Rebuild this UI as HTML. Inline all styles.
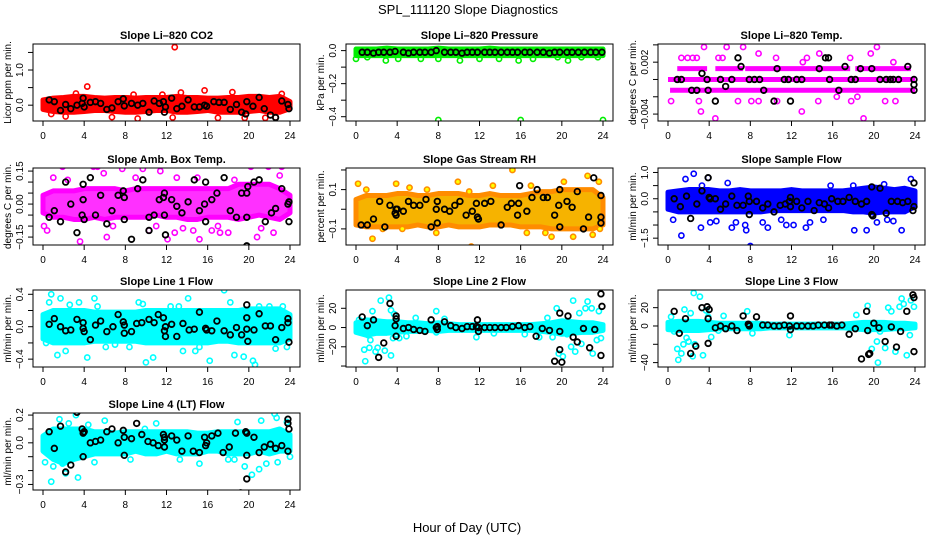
<!DOCTYPE html>
<html><head><meta charset="utf-8"><title>SPL_111120 Slope Diagnostics</title>
<style>
html,body{margin:0;padding:0;background:#fff;}
svg{display:block;font-family:"Liberation Sans",Arial,sans-serif;}
</style></head>
<body>
<svg id="chart" width="936" height="540" viewBox="0 0 936 540">
<text x="468" y="14" text-anchor="middle" font-size="13">SPL_111120  Slope Diagnostics</text>
<text x="467" y="532" text-anchor="middle" font-size="13">Hour of Day (UTC)</text>
</svg>
<script>
// ---------- shared ----------
const hours = [0,1,2,3,4,5,6,7,8,9,10,11,12,13,14,15,16,17,18,19,20,21,22,23,24];
const xTicks = [0,4,8,12,16,20,24];

// ---------- Panel 1: Li-820 CO2 ----------
const co2BandLo = [-0.12,-0.18,-0.2,-0.2,-0.18,-0.15,-0.15,-0.18,-0.2,-0.2,-0.18,-0.15,-0.15,-0.2,-0.2,-0.18,-0.15,-0.2,-0.2,-0.2,-0.18,-0.15,-0.2,-0.2,-0.1];
const co2BandHi = [0.15,0.2,0.22,0.25,0.25,0.22,0.2,0.22,0.22,0.2,0.22,0.22,0.22,0.25,0.22,0.22,0.2,0.2,0.22,0.22,0.25,0.25,0.22,0.25,0.1];
const co2OutX = [12.8,4.3,15.7,13.4,18.4,3.2,23.2,9.2,6.7,12.6,21.6,22.6,17.0,19.6,2.2,0.8,11.6,8.8];
const co2OutY = [1.65,0.53,0.42,0.36,0.37,0.33,0.32,-0.38,-0.34,-0.35,-0.36,-0.35,-0.36,-0.36,-0.32,-0.25,0.3,0.3];
const co2BlkX = [0.6,1.1,1.7,2.2,2.7,3.3,3.8,3.9,4.0,4.6,5.1,5.6,6.2,6.7,7.3,7.8,7.9,8.6,9.2,9.7,10.3,10.8,11.3,11.7,11.8,11.9,12.5,13.0,13.5,14.1,14.7,15.2,15.7,15.9,16.6,17.1,17.6,18.2,18.8,19.3,19.7,19.8,20.4,21.0,21.5,22.1,22.6,23.2,23.8,23.9];
const co2BlkY = [0.15,0.1,-0.15,0.02,-0.1,0.0,0.05,0.2,-0.05,0.08,0.1,0.05,-0.12,-0.08,0.1,0.18,-0.02,0.05,0.0,0.05,-0.2,0.12,0.05,0.1,-0.2,-0.05,0.2,-0.1,-0.03,0.15,-0.05,-0.05,0.0,-0.03,0.1,0.08,0.08,-0.12,0.02,-0.2,-0.25,0.1,-0.03,0.22,-0.1,-0.28,-0.35,0.12,0.02,-0.1];

// ---------- Panel 2: Li-820 Pressure ----------
const presBandLo = [-0.03,-0.03,-0.03,-0.03,-0.03,-0.03,-0.03,-0.03,-0.03,-0.03,-0.03,-0.03,-0.03,-0.03,-0.03,-0.03,-0.03,-0.03,-0.03,-0.03,-0.03,-0.03,-0.03,-0.03,-0.03];
const presBandHi = [0.01,0.01,0.01,0.015,0.01,0.01,0.01,0.01,0.015,0.01,0.01,0.01,0.01,0.015,0.01,0.01,0.01,0.01,0.01,0.01,0.01,0.01,0.01,0.01,0.01];
const presOutX = [0,1.1,2.9,4.1,6.3,8.0,8.0,10.1,12.0,13.9,15.8,16.0,17.2,19.6,20.6,21.9,23.5,24.0];
const presOutY = [-0.05,-0.04,-0.06,-0.05,-0.05,-0.05,-0.42,-0.06,-0.05,-0.05,-0.06,-0.42,-0.05,-0.04,-0.06,-0.04,-0.04,-0.42];
const presBlkX = [0.6,1.1,1.7,2.2,2.7,3.3,3.8,4.6,5.1,5.6,6.2,6.7,7.3,7.8,8.6,9.2,9.7,10.3,10.8,11.3,11.8,12.5,13.0,13.5,14.1,14.7,15.2,15.7,16.4,16.9,17.6,18.2,18.8,19.3,19.8,20.5,21.0,21.6,22.2,22.8,23.3,23.9];
const presBlkY = [-0.01,-0.01,-0.015,-0.01,-0.01,-0.01,-0.005,-0.01,-0.015,-0.01,-0.01,-0.01,-0.01,0.0,-0.01,-0.01,-0.01,-0.015,-0.01,-0.01,-0.01,-0.01,-0.01,-0.01,-0.01,-0.01,-0.01,-0.01,-0.01,-0.01,-0.01,-0.01,-0.015,-0.01,-0.01,-0.01,-0.01,-0.01,-0.01,-0.01,-0.01,-0.01];

// ---------- Panel 3: Li-820 Temp (discrete levels) ----------
const tempStripLevel = [0,0.00125,0.00125,0.00125,0.00125,-0.00125];
const tempStripStart = [0,0.9,4.6,7.5,18.2,0.2];
const tempStripEnd = [24,3.8,7.3,17.7,23.6,24];
const tempOutX = [1.3,1.9,2.4,2.8,3.5,4.9,5.3,5.7,7.3,8.8,10.5,13.1,13.5,14.7,17.7,19.7,20.3,21.9,0.3,3.0,3.2,4.6,6.8,8.1,8.8,10.6,13.0,14.6,16.4,17.8,18.4,19.0,22.1,21.1];
const tempOutY = [0.0025,0.0025,0.0025,0.0025,0.00375,0.0025,0.0025,0.00375,0.00375,0.003,0.0025,0.002,0.0025,0.003,0.0025,0.003,0.00375,0.002,-0.0025,-0.0025,-0.0037,-0.0045,-0.0025,-0.0025,-0.0025,-0.0025,-0.0037,-0.0025,-0.002,-0.0025,-0.002,-0.0045,-0.0025,-0.0025];
const tempBlkX = [0.9,1.3,2.3,2.8,3.3,3.8,3.9,4.6,5.1,5.6,6.2,6.8,7.1,7.9,8.4,8.9,9.3,10.3,10.6,11.3,11.7,11.9,12.5,13.0,14.7,15.3,15.6,15.7,16.6,17.2,17.8,18.2,18.7,19.8,20.6,21.2,21.6,21.9,22.4,23.3,23.9,23.9,23.9];
const tempBlkY = [0,0,-0.00125,-0.00125,0.0007,0,-0.00125,-0.0025,0,-0.0008,0,0.0025,0.0015,0,0,0,-0.00125,-0.0025,0.00125,0,0,-0.0025,0,0,0.00125,0.0025,0.0025,0,-0.00125,0.0015,0,0,0.00125,0.00125,0,0,0,0,0,0.0015,0,-0.0006,-0.00125];

// ---------- Panel 4: Amb. Box Temp ----------
const ambBandLo = [-0.04,-0.06,-0.06,-0.07,-0.07,-0.06,-0.07,-0.06,-0.06,-0.06,-0.06,-0.05,-0.06,-0.06,-0.07,-0.07,-0.06,-0.06,-0.06,-0.07,-0.06,-0.05,-0.06,-0.07,-0.04];
const ambBandHi = [0.04,0.06,0.06,0.06,0.07,0.07,0.07,0.07,0.06,0.07,0.07,0.07,0.07,0.07,0.07,0.07,0.07,0.07,0.07,0.09,0.09,0.09,0.09,0.07,0.04];
const ambOutX = [1.4,3.3,1.9,0.4,3.6,4.9,5.3,6.2,8.6,7.7,9.7,10.3,11.4,12.1,12.8,14.6,15.2,16.4,17.2,18.0,19.8,20.2,20.8,21.9,22.4,23.2,1.0,5.9,13.6,0.1,2.4,6.8,9.0,11.0,13.0,15.0,17.0,18.6,21.2,23.0];
const ambOutY = [-0.2,0.19,0.17,-0.12,-0.17,0.17,0.17,-0.15,-0.21,0.16,0.16,-0.12,0.15,-0.16,-0.13,-0.12,-0.16,-0.12,-0.13,-0.13,0.19,0.17,-0.15,0.17,-0.13,0.17,0.12,0.14,-0.11,-0.1,0.11,-0.1,0.12,-0.1,0.12,0.12,-0.1,0.11,-0.11,0.13];
const ambBlkX = [0.6,1.1,1.7,2.2,2.7,3.3,3.8,3.9,3.9,4.0,4.6,5.1,5.6,6.2,6.7,7.3,7.8,7.9,7.9,8.6,9.2,9.7,10.3,10.3,10.8,11.3,11.7,11.8,11.8,11.9,12.5,13.0,13.5,14.1,14.7,15.2,15.7,15.8,15.8,16.4,16.9,17.6,18.2,18.8,19.3,19.8,19.8,19.8,19.9,20.5,21.0,21.6,22.2,22.6,23.2,23.8,23.9,23.9];
const ambBlkY = [-0.06,-0.03,-0.08,0.1,0.0,-0.13,-0.05,0.02,0.09,-0.07,0.12,-0.05,0.04,-0.09,-0.03,0.04,0.06,0.03,-0.07,-0.16,0.07,0.11,-0.06,-0.12,-0.05,0.02,0.03,0.05,-0.05,-0.14,0.02,-0.01,-0.04,0.01,0.11,-0.03,0.0,-0.08,0.1,0.02,0.05,0.12,-0.03,-0.06,0.05,0.05,-0.06,-0.19,0.08,0.1,0.11,-0.08,-0.04,-0.02,0.07,0.0,0.01,-0.08];

// ---------- Panel 5: Gas Stream RH ----------
const rhBandLo = [-0.08,-0.09,-0.09,-0.09,-0.09,-0.09,-0.08,-0.09,-0.09,-0.08,-0.09,-0.09,-0.09,-0.08,-0.08,-0.08,-0.09,-0.09,-0.09,-0.1,-0.1,-0.1,-0.1,-0.1,-0.08];
const rhBandHi = [0.05,0.07,0.07,0.07,0.08,0.08,0.07,0.07,0.08,0.08,0.08,0.07,0.07,0.08,0.07,0.07,0.07,0.08,0.09,0.09,0.1,0.1,0.1,0.1,0.06];
const rhOutX = [0.2,1.0,1.6,2.6,3.9,4.5,5.5,5.2,6.9,7.8,9.9,11.2,11.0,13.3,15.2,16.6,17.0,18.4,19.0,20.2,21.1,22.5,23.0,23.6,23.7];
const rhOutY = [0.13,0.1,-0.15,-0.1,0.13,-0.1,-0.2,0.11,0.1,-0.12,0.14,-0.19,0.09,0.12,0.2,-0.12,0.12,-0.12,-0.14,0.14,-0.14,0.17,-0.13,0.14,-0.1];
const rhBlkX = [0.5,1.1,1.7,2.3,2.8,3.3,3.8,3.9,3.9,4.0,4.6,5.1,5.6,6.2,6.8,7.3,7.8,7.9,7.9,8.6,9.1,9.6,10.1,10.7,11.3,11.7,11.8,11.9,12.5,13.1,14.1,14.7,15.1,15.7,15.8,15.9,16.6,17.1,17.6,18.2,18.6,19.3,19.7,19.8,19.8,20.5,21.0,21.5,22.1,22.6,23.1,23.8,23.8,23.8];
const rhBlkY = [-0.08,-0.08,-0.05,0.04,-0.09,0.02,-0.02,0.0,-0.03,0.0,-0.01,0.04,0.02,0.02,0.05,-0.09,0.0,-0.07,0.04,0.0,-0.01,0.02,0.04,-0.03,-0.01,0.03,-0.04,-0.05,0.03,0.04,-0.08,0.01,0.03,-0.03,0.03,0.12,-0.01,0.06,0.1,0.06,0.06,-0.03,0.02,0.1,-0.09,0.04,0.01,0.09,-0.1,-0.04,0.16,-0.04,-0.07,0.07];

// ---------- Panel 6: Sample Flow ----------
const sfBandLo = [-0.4,-0.5,-0.5,-0.5,-0.5,-0.5,-0.5,-0.5,-0.5,-0.5,-0.45,-0.45,-0.45,-0.45,-0.45,-0.45,-0.45,-0.45,-0.5,-0.5,-0.55,-0.5,-0.5,-0.5,-0.3];
const sfBandHi = [0.25,0.3,0.35,0.35,0.35,0.3,0.3,0.35,0.3,0.3,0.3,0.3,0.35,0.3,0.3,0.3,0.3,0.3,0.35,0.4,0.45,0.4,0.35,0.4,0.3];
const sfOutX = [1.3,0.5,1.9,1.7,2.5,3.2,3.3,3.9,4.1,4.7,5.8,6.2,6.6,7.5,7.6,8.0,9.2,9.7,11.0,11.5,12.2,13.4,13.8,15.1,15.8,18.1,18.0,19.3,20.3,20.6,21.0,21.3,21.9,22.7,23.6];
const sfOutY = [-1.4,-0.8,1.3,0.75,0.95,-1.1,0.5,0.8,-0.9,-0.85,0.6,-1.1,-0.9,-1.0,-1.2,-1.8,-0.9,-1.1,-0.8,-1.0,-1.0,-1.1,-0.9,-0.8,0.5,-1.2,0.5,-1.2,-0.9,-1.9,0.55,-0.8,-0.85,-1.2,0.75];
const sfBlkX = [0.6,1.2,1.8,2.2,2.8,3.3,3.9,4.0,4.1,4.6,5.1,5.6,6.2,6.7,7.3,7.8,7.9,7.9,8.6,9.2,9.7,10.3,10.9,11.4,11.8,11.9,11.9,12.5,13.0,13.6,14.2,14.7,15.2,15.6,15.9,16.5,17.0,17.6,18.2,18.8,19.3,19.8,19.8,19.9,20.6,21.2,21.7,22.3,22.8,23.3,23.9,23.9,23.8];
const sfBlkY = [0.0,-0.3,0.1,-0.75,-0.2,0.3,0.8,0.05,0.0,0.0,-0.4,-0.2,0.1,-0.25,-0.25,0.1,-0.1,-0.6,-0.1,-0.35,-0.2,-0.5,-0.25,-0.2,-0.1,0.05,-0.3,-0.1,-0.35,-0.1,-0.45,-0.15,-0.2,-0.35,0.0,-0.1,-0.1,0.05,-0.1,-0.2,-0.1,0.45,-0.6,-0.65,0.4,-0.55,-0.1,-0.1,-0.15,-0.1,0.6,-0.3,-0.45];

// ---------- Panel 7: Line 1 Flow ----------
const l1BandLo = [-0.15,-0.2,-0.2,-0.2,-0.2,-0.18,-0.18,-0.18,-0.18,-0.18,-0.2,-0.2,-0.2,-0.2,-0.2,-0.2,-0.2,-0.18,-0.18,-0.2,-0.2,-0.2,-0.2,-0.2,-0.15];
const l1BandHi = [0.15,0.2,0.2,0.2,0.2,0.18,0.18,0.18,0.18,0.18,0.2,0.2,0.2,0.2,0.2,0.2,0.2,0.2,0.2,0.2,0.22,0.22,0.22,0.22,0.15];
const l1OutX = [0.3,0.6,0.8,1.0,1.4,1.7,2.2,2.6,3.5,4.1,4.3,5.0,5.3,6.1,7.0,8.4,9.3,9.7,10.0,10.7,12.4,13.2,13.6,14.1,14.8,15.2,16.2,17.6,18.2,18.6,19.5,20.4,20.6,21.0,22.0,22.6,23.3,23.7];
const l1OutY = [-0.2,0.3,0.4,-0.17,-0.35,0.35,-0.3,0.27,0.3,-0.15,-0.38,0.35,0.25,-0.25,-0.22,-0.25,0.3,0.28,-0.44,-0.38,0.25,0.25,-0.3,0.35,-0.3,-0.25,-0.42,0.45,0.3,-0.35,-0.37,-0.42,-0.47,0.25,0.25,-0.27,0.25,-0.25];
const l1BlkX = [0.6,1.1,1.7,2.2,2.7,3.3,3.9,3.9,4.0,4.6,5.1,5.6,6.2,6.8,7.3,7.8,7.9,7.9,8.6,9.1,9.6,10.3,10.8,11.2,11.7,11.8,11.9,11.9,12.5,13.0,13.6,14.2,14.7,15.2,15.8,15.9,16.4,16.9,17.6,18.2,18.8,19.3,19.8,19.8,19.8,19.9,20.5,21.0,21.6,22.1,22.6,23.2,23.8,23.8,23.9];
const l1BlkY = [0.03,0.1,0.0,-0.05,-0.04,0.09,0.05,-0.02,-0.06,-0.16,0.02,0.07,-0.06,0.0,0.15,0.06,-0.08,0.02,-0.06,0.04,0.05,0.09,0.05,0.15,0.11,-0.05,0.0,-0.12,0.03,-0.12,0.04,-0.04,-0.03,0.18,-0.02,-0.04,-0.05,0.07,-0.05,-0.1,-0.01,-0.1,0.27,0.11,-0.03,-0.18,-0.04,0.16,0.01,0.01,-0.16,-0.01,0.1,0.05,-0.19];

// ---------- Panel 8: Line 2 Flow ----------
const l2BandLo = [-5,-8,-6,-6,-5,-4,-4,-3,-4,-3,-3,-3,-3,-3,-3,-3,-3,-3,-4,-5,-7,-6,-5,-5,-3];
const l2BandHi = [5,8,7,6,6,5,5,4,5,4,3,3,3,3,3,3,3,3,4,5,7,6,5,5,3];
const l2OutX = [0.3,0.8,0.9,1.2,1.4,1.6,1.3,1.9,2.1,2.4,2.8,3.2,3.4,3.6,3.7,3.4,4.2,4.9,5.8,7.8,7.8,8.6,11.7,13.4,16.4,17.8,18.6,19.1,19.5,19.7,20.1,20.5,20.9,21.1,21.3,21.7,21.9,22.3,22.5,22.9,23.0,23.4,23.6,23.8];
const l2OutY = [8,-23,-35,-8,-13,17,-21,-25,-21,28,-24,31,18,-11,14,-29,-11,-9,10,17,-5,9,-10,-6,-7,-10,10,-10,20,-27,-30,-7,-20,28,-25,15,-17,20,27,20,-27,-13,17,-11];
const l2BlkX = [0.6,1.1,1.7,2.2,2.7,3.3,3.8,3.9,3.9,3.9,4.6,5.1,5.6,6.2,6.7,7.3,7.8,7.9,7.9,8.6,9.2,9.7,10.3,10.8,11.3,11.7,11.8,11.9,11.9,12.5,13.0,13.5,14.1,14.6,15.2,15.8,16.4,16.9,17.5,18.1,18.8,19.3,19.8,19.8,19.8,20.0,20.6,21.1,21.5,22.1,22.7,23.2,23.8,23.8,23.9];
const l2BlkY = [11,2,8,-31,-16,25,2,-9,12,9,-1,0,-2,-3,-4,8,0,-2,1,6,2,0,-1,1,1,1,8,-4,0,0,0,0,0,0,1,2,0,1,-9,-1,-3,-35,15,-23,-4,-36,12,-10,-15,-1,-21,-2,35,-29,22];

// ---------- Panel 9: Line 3 Flow ----------
const l3BandLo = [-4,-5,-5,-5,-4,-3,-3,-3,-3,-3,-2,-2,-2,-2,-2,-2,-2,-2,-3,-4,-4,-4,-3,-3,-2];
const l3BandHi = [4,5,5,5,4,3,3,3,3,3,2,2,2,2,2,2,2,2,3,4,4,4,3,3,2];
const l3OutX = [0.3,0.6,0.9,1.0,1.3,1.5,1.6,1.8,2.0,2.2,2.4,2.6,2.5,3.1,3.4,3.7,3.9,4.2,4.9,5.4,7.7,8.2,11.8,18.3,19.4,19.5,19.8,20.3,20.4,20.6,21.1,21.4,21.7,22.1,22.5,22.7,22.9,23.2,23.5,23.6,23.9];
const l3OutY = [10,-6,-25,-37,-30,-20,18,-13,-17,14,-33,-20,36,32,-32,17,10,-12,-5,11,16,-8,-10,12,22,-5,-25,-17,-40,-6,-24,20,16,-28,21,30,24,-32,-10,28,21];
const l3BlkX = [0.6,1.1,1.7,2.2,2.7,3.3,3.8,3.9,3.9,4.0,4.6,5.1,5.6,6.2,6.7,7.3,7.8,7.9,7.9,8.6,9.2,9.7,10.3,10.8,11.3,11.8,11.9,11.9,12.5,13.0,13.6,14.1,14.6,15.2,15.7,15.9,16.4,16.9,17.6,18.2,18.8,19.3,19.4,19.5,19.6,20.0,20.5,21.1,21.7,22.2,22.6,23.2,23.8,23.9,23.9];
const l3BlkY = [16,-8,8,-30,-22,20,21,8,-19,18,-2,0,-3,0,-5,11,2,1,0,10,1,1,0,0,1,0,11,-4,0,0,0,0,1,1,1,1,0,1,-9,-3,-36,16,-5,-31,-30,3,-2,-17,-1,-23,-6,16,34,-28,31];

// ---------- Panel 10: Line 4 (LT) Flow ----------
const l4BandLo = [-0.06,-0.12,-0.15,-0.12,-0.1,-0.08,-0.08,-0.08,-0.08,-0.06,-0.08,-0.08,-0.06,-0.08,-0.08,-0.08,-0.06,-0.06,-0.08,-0.08,-0.08,-0.06,-0.08,-0.06,-0.06];
const l4BandHi = [0.05,0.1,0.1,0.1,0.1,0.08,0.08,0.07,0.08,0.08,0.08,0.08,0.08,0.08,0.08,0.07,0.07,0.08,0.08,0.08,0.08,0.08,0.08,0.1,0.06];
const l4OutX = [0.2,0.8,1.0,1.6,1.9,2.2,2.5,3.2,3.4,3.8,4.4,5.0,6.0,8.5,9.9,11.0,13.3,15.2,18.0,18.6,18.9,19.6,20.3,21.0,21.2,21.7,22.5,22.7,22.8,23.7,24.0];
const l4OutY = [-0.14,-0.28,-0.17,0.17,-0.15,-0.22,0.14,0.2,-0.25,-0.1,0.13,-0.14,0.16,-0.12,0.1,0.14,-0.12,-0.15,-0.12,-0.12,0.15,-0.17,-0.23,-0.19,0.16,-0.15,0.21,0.18,-0.14,0.15,-0.1];
const l4BlkX = [0.6,1.1,1.7,2.2,2.7,3.3,3.8,3.9,4.0,3.9,4.6,5.1,5.6,6.2,6.7,7.3,7.8,7.9,7.9,8.6,9.1,9.6,10.2,10.7,11.2,11.7,11.8,11.8,11.8,12.5,13.0,13.5,14.1,14.6,15.2,15.7,15.8,15.9,16.4,17.0,17.5,18.1,18.7,19.2,19.7,19.8,19.8,19.8,20.5,21.0,21.5,22.1,22.6,23.2,23.8,23.8,23.9,23.8];
const l4BlkY = [0.08,-0.04,0.12,-0.21,-0.16,0.22,0.1,0.07,0.08,-0.1,0.0,0.01,0.02,0.08,0.1,0.0,0.09,0.04,-0.09,0.03,0.14,0.06,0.01,0.0,-0.02,0.06,0.02,0.04,-0.03,0.05,0.02,-0.06,0.05,-0.06,-0.07,0.04,-0.02,0.0,0.05,0.07,-0.07,-0.03,0.07,-0.36,0.08,-0.09,-0.26,0.07,0.04,-0.07,-0.03,-0.01,-0.04,-0.02,0.14,0.17,0.1,-0.06];

// ---------- tick arrays ----------
const co2Ticks=[0,0.5,1.0,1.5], co2TickLabels=["0.0","","1.0",""];
const presTicks=[0,-0.1,-0.2,-0.3,-0.4], presTickLabels=["0.0","","-0.2","","-0.4"];
const tempTicks=[0.004,0.002,0,-0.002,-0.004], tempTickLabels=["","0.002","","","-0.004"];
const ambTicks=[0.15,0.10,0.05,0,-0.05,-0.10,-0.15], ambTickLabels=["0.15","","","0.00","","","-0.15"];
const rhTicks=[0.2,0.1,0,-0.1], rhTickLabels=["","0.1","","-0.1"];
const sfTicks=[1.0,0.5,0,-0.5,-1.0,-1.5], sfTickLabels=["1.0","","0.0","","","-1.5"];
const l1Ticks=[0.4,0.2,0,-0.2,-0.4], l1TickLabels=["0.4","","0.0","","-0.4"];
const l2Ticks=[20,0,-20,-40], l2TickLabels=["20","0","-20",""];
const l3Ticks=[20,0,-20,-40], l3TickLabels=["20","0","","-40"];
const l4Ticks=[0.2,0.1,0,-0.1,-0.2,-0.3], l4TickLabels=["0.2","","0.0","","","-0.3"];

const NS="http://www.w3.org/2000/svg";
const svg=document.getElementById('chart');
function mk(tag,attrs,parent){const e=document.createElementNS(NS,tag);for(const k in attrs)e.setAttribute(k,attrs[k]);(parent||svg).appendChild(e);return e;}

const colLeft=[33,346,658], rowTop=[44,168,290,413], BW=267, BH=77;

const panels=[
 {slug:'li820-co2',title:'Slope Li\u2013820 CO2',ylab:'Licor ppm per min.',col:0,row:0,ymin:-0.45,ymax:1.74,color:'#ff0000',fill:'#ff0000',lo:co2BandLo,hi:co2BandHi,ox:co2OutX,oy:co2OutY,bx:co2BlkX,by:co2BlkY,ticks:co2Ticks,tl:co2TickLabels},
 {slug:'li820-pressure',title:'Slope Li\u2013820 Pressure',ylab:'kPa per min.',col:1,row:0,ymin:-0.426,ymax:0.04,color:'#00ee00',fill:'#00ee00',lo:presBandLo,hi:presBandHi,ox:presOutX,oy:presOutY,bx:presBlkX,by:presBlkY,ticks:presTicks,tl:presTickLabels},
 {slug:'li820-temp',title:'Slope Li\u2013820 Temp.',ylab:'degrees C per min.',col:2,row:0,ymin:-0.0048,ymax:0.0041,color:'#ff00ff',fill:'#ff00ff',strips:true,ox:tempOutX,oy:tempOutY,bx:tempBlkX,by:tempBlkY,ticks:tempTicks,tl:tempTickLabels},
 {slug:'amb-box-temp',title:'Slope Amb. Box Temp.',ylab:'degrees C per min.',col:0,row:1,ymin:-0.186,ymax:0.164,color:'#ff00ff',fill:'#ff30ff',lo:ambBandLo,hi:ambBandHi,ox:ambOutX,oy:ambOutY,bx:ambBlkX,by:ambBlkY,ticks:ambTicks,tl:ambTickLabels},
 {slug:'gas-stream-rh',title:'Slope Gas Stream RH',ylab:'percent per min.',col:1,row:1,ymin:-0.182,ymax:0.21,color:'#ff8c00',fill:'#f6b300',lo:rhBandLo,hi:rhBandHi,ox:rhOutX,oy:rhOutY,bx:rhBlkX,by:rhBlkY,ticks:rhTicks,tl:rhTickLabels},
 {slug:'sample-flow',title:'Slope Sample Flow',ylab:'ml/min per min.',col:2,row:1,ymin:-1.76,ymax:1.17,color:'#0000ff',fill:'#0000ff',lo:sfBandLo,hi:sfBandHi,ox:sfOutX,oy:sfOutY,bx:sfBlkX,by:sfBlkY,ticks:sfTicks,tl:sfTickLabels},
 {slug:'line1-flow',title:'Slope Line 1 Flow',ylab:'ml/min per min.',col:0,row:2,ymin:-0.497,ymax:0.453,color:'#00ffff',fill:'#00ffff',lo:l1BandLo,hi:l1BandHi,ox:l1OutX,oy:l1OutY,bx:l1BlkX,by:l1BlkY,ticks:l1Ticks,tl:l1TickLabels},
 {slug:'line2-flow',title:'Slope Line 2 Flow',ylab:'ml/min per min.',col:1,row:2,ymin:-41,ymax:39,color:'#00ffff',fill:'#00ffff',lo:l2BandLo,hi:l2BandHi,ox:l2OutX,oy:l2OutY,bx:l2BlkX,by:l2BlkY,ticks:l2Ticks,tl:l2TickLabels},
 {slug:'line3-flow',title:'Slope Line 3 Flow',ylab:'ml/min per min.',col:2,row:2,ymin:-44.8,ymax:39.3,color:'#00ffff',fill:'#00ffff',lo:l3BandLo,hi:l3BandHi,ox:l3OutX,oy:l3OutY,bx:l3BlkX,by:l3BlkY,ticks:l3Ticks,tl:l3TickLabels},
 {slug:'line4-flow',title:'Slope Line 4 (LT) Flow',ylab:'ml/min per min.',col:0,row:3,ymin:-0.34,ymax:0.215,color:'#00ffff',fill:'#00ffff',lo:l4BandLo,hi:l4BandHi,ox:l4OutX,oy:l4OutY,bx:l4BlkX,by:l4BlkY,ticks:l4Ticks,tl:l4TickLabels}
];

panels.forEach(p=>{
  const L=colLeft[p.col], T=rowTop[p.row], R=L+BW, B=T+BH;
  const xs=h=>L+10+h*(BW-20)/24;
  const ys=v=>B-(v-p.ymin)/(p.ymax-p.ymin)*BH;
  const g=mk('g',{});
  
  
  const t=mk('text',{x:(L+R)/2,y:T-5,'text-anchor':'middle','font-size':11,'font-weight':'bold'},g);
  t.textContent=p.title;
  
  
  const clipId='clip-'+p.slug;
  const cp=mk('clipPath',{id:clipId},g);
  mk('rect',{x:L,y:T,width:BW,height:BH},cp);
  const marks=mk('g',{'clip-path':'url(#'+clipId+')'},g);
  
  
  if(p.strips){
    tempStripLevel.forEach((lv,i)=>{
      const s=mk('line',{x1:xs(tempStripStart[i]),x2:xs(tempStripEnd[i]),y1:ys(lv),y2:ys(lv),stroke:p.color,'stroke-width':5},marks);
      
      
    });
  } else {
    let d='M'+hours.map((h,i)=>xs(h)+','+ys(p.hi[i])).join(' L');
    d+=' L'+hours.slice().reverse().map(h=>xs(h)+','+ys(p.lo[h])).join(' L')+'Z';
    const band=mk('path',{d:d,fill:p.fill,stroke:p.color,'stroke-width':5,'stroke-linejoin':'round'},marks);
    
    
  }
  p.ox.forEach((x,i)=>{
    const c=mk('circle',{cx:xs(x),cy:ys(p.oy[i]),r:2.6,fill:p.slug==='gas-stream-rh'?'#ffff00':'none',stroke:p.color,'stroke-width':1.6},marks);
    
    
  });
  p.bx.forEach((x,i)=>{
    const c=mk('circle',{cx:xs(x),cy:ys(p.by[i]),r:2.8,fill:'none',stroke:'#000','stroke-width':1.8},marks);
    
    
  });
  const box=mk('rect',{x:L,y:T,width:BW,height:BH,fill:'none',stroke:'#000','stroke-width':1},g);
  
  
  const xa=mk('g',{},g);
  
  
  xTicks.forEach(h=>{
    mk('line',{x1:xs(h),x2:xs(h),y1:B,y2:B+5,stroke:'#000'},xa);
    const tx=mk('text',{x:xs(h),y:B+18,'text-anchor':'middle','font-size':10},xa);
    tx.textContent=h;
    
    
  });
  const ya=mk('g',{},g);
  
  
  p.ticks.forEach((v,i)=>{
    const y=ys(v);
    mk('line',{x1:L-5,x2:L,y1:y,y2:y,stroke:'#000'},ya);
    if(p.tl[i]){
      const tx=mk('text',{x:L-10,y:y,'text-anchor':'middle','font-size':10,transform:'rotate(-90 '+(L-10)+' '+y+')'},ya);
      tx.textContent=p.tl[i].replace('-','\u2212');
      
      
    }
  });
  const yl=mk('text',{x:L-22,y:(T+B)/2,'text-anchor':'middle','font-size':10,transform:'rotate(-90 '+(L-22)+' '+(T+B)/2+')'},g);
  yl.textContent=p.ylab;
  
  
});
</script>
</body></html>
